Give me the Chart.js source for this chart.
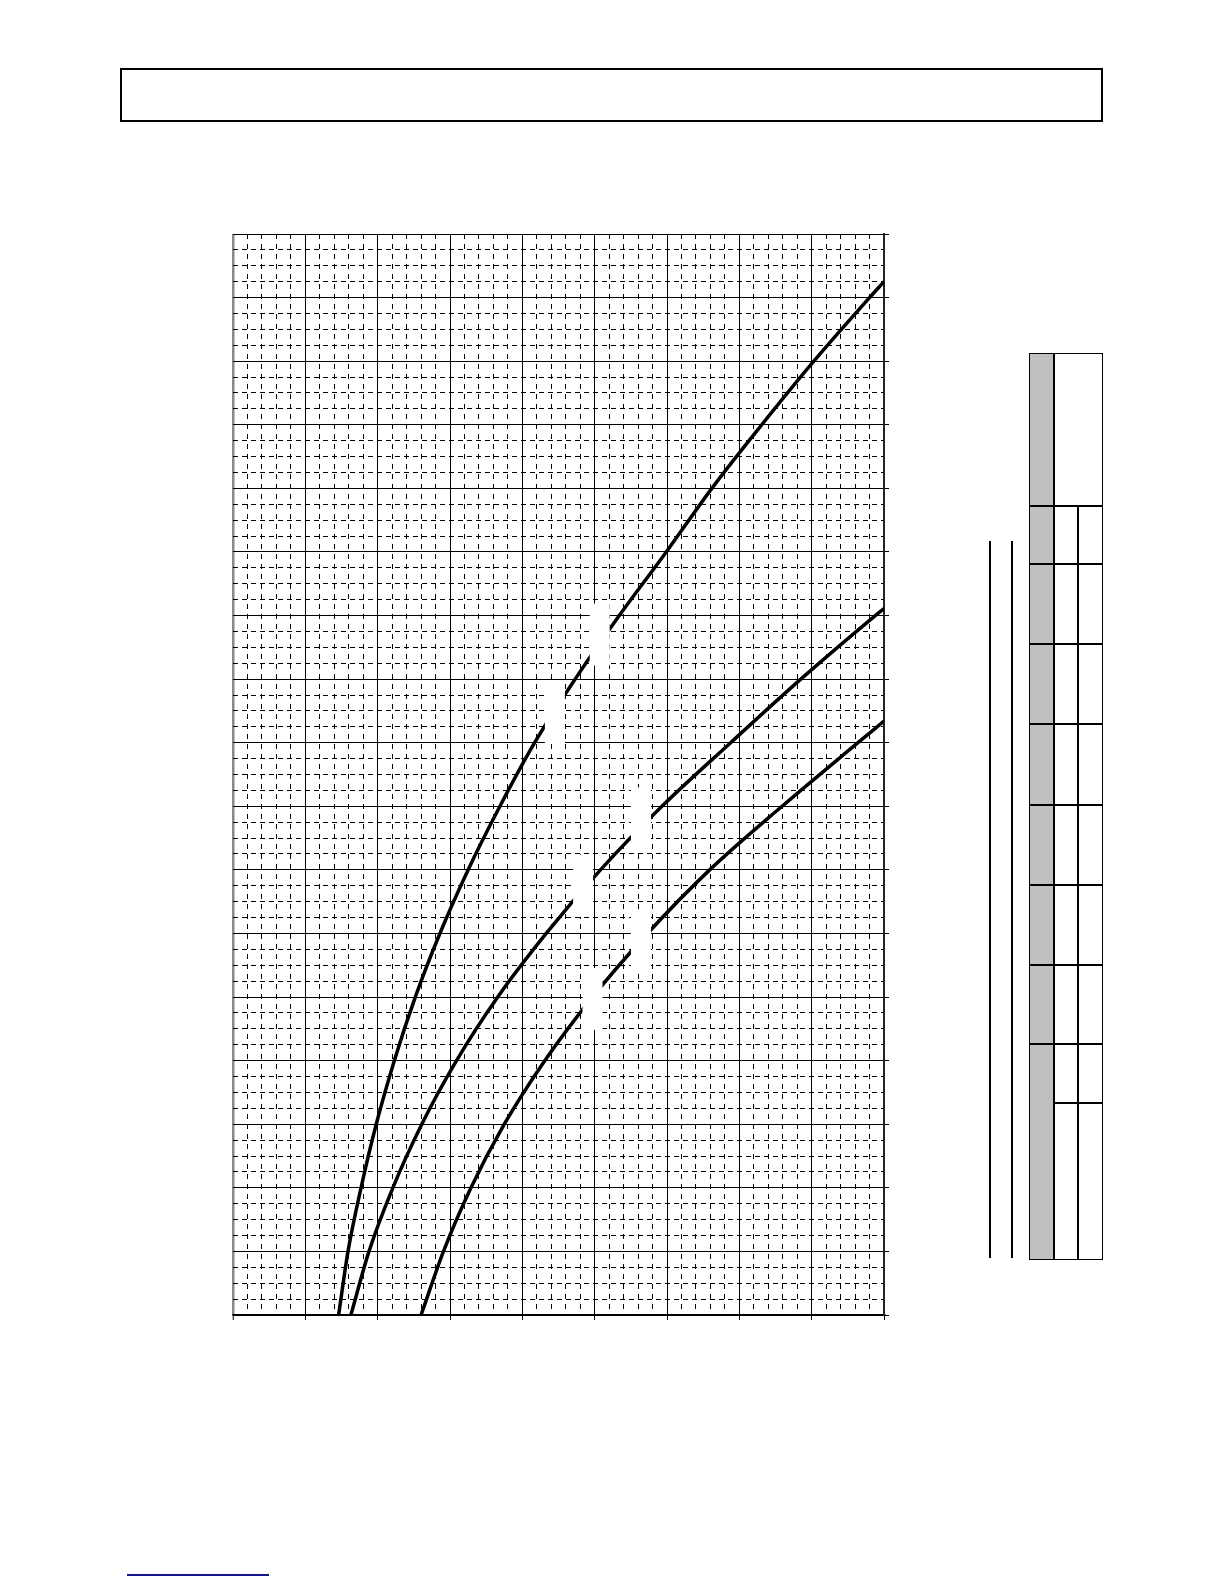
<!DOCTYPE html>
<html>
<head>
<meta charset="utf-8">
<script src="https://cdn.jsdelivr.net/npm/chart.js@4.4.1/dist/chart.umd.min.js"></script>
<style>
  body { margin: 0; background: #fff; }
  #page { position: relative; width: 1224px; height: 1584px; background: #fff; overflow: hidden; }
  .abs { position: absolute; box-sizing: border-box; }
  .hl { position: absolute; height: 1.5px; background: #000; }
  .vl { position: absolute; width: 1.5px; background: #000; }
  #chartBox { position: absolute; left: 200px; top: 200px; width: 720px; height: 1150px; }
</style>
</head>
<body>
<div id="page">
  <!-- title frame -->
  <div class="abs" style="left:120px; top:68px; width:983px; height:54px; border:2px solid #000;"></div>

  <div id="chartBox"><canvas id="curveChart"></canvas></div>

  <!-- two loose rules left of the table -->
  <div class="vl" style="left:989px; top:541px; height:717px;"></div>
  <div class="vl" style="left:1011px; top:541px; height:717px;"></div>

  <!-- side table -->
  <div class="abs" style="left:1029px; top:353px; width:24px; height:906px; background:#c0c0c0;"></div>
  <div class="abs" style="left:1029px; top:353px; width:74px; height:907px; border:1.5px solid #000;"></div>
  <div class="vl" style="left:1053px; top:353px; height:906px;"></div>
  <div class="vl" style="left:1077px; top:505px; height:754px;"></div>
  <div class="hl" style="left:1029px; top:505px; width:73px;"></div>
  <div class="hl" style="left:1029px; top:563px; width:73px;"></div>
  <div class="hl" style="left:1029px; top:643px; width:73px;"></div>
  <div class="hl" style="left:1029px; top:723px; width:73px;"></div>
  <div class="hl" style="left:1029px; top:804px; width:73px;"></div>
  <div class="hl" style="left:1029px; top:884px; width:73px;"></div>
  <div class="hl" style="left:1029px; top:964px; width:73px;"></div>
  <div class="hl" style="left:1029px; top:1043px; width:73px;"></div>
  <div class="hl" style="left:1053px; top:1102px; width:49px;"></div>

  <!-- footer rule -->
  <div class="abs" style="left:127px; top:1574px; width:142px; height:2px; background:#14148a;"></div>
</div>

<script>
// axis ranges (grid units)
const xMin = 0, xMax = 9, xMajor = 1, xMinor = 0.2;
const yMin = 0, yMax = 17, yMajor = 1, yMinor = 0.25;

// curve values
const curve1X = [1.46, 1.59, 1.77, 1.98, 2.23, 2.52, 2.86, 3.25, 3.69, 4.17, 4.73, 5.34, 5.99, 6.62, 7.31, 8.03, 8.80, 9.00];
const curve1Y = [0, 1, 2, 3, 4, 5, 6, 7, 8, 9, 10, 11, 12, 13, 14, 15, 16, 16.25];

const curve2X = [1.63, 1.88, 2.21, 2.61, 3.09, 3.66, 4.33, 5.08, 5.93, 6.88, 7.85, 8.88, 9.00];
const curve2Y = [0, 1, 2, 3, 4, 5, 6, 7, 8, 9, 10, 11, 11.11];

const curve3X = [2.60, 2.91, 3.29, 3.75, 4.31, 4.97, 5.73, 6.59, 7.59, 8.64, 9.00];
const curve3Y = [0, 1, 2, 3, 4, 5, 6, 7, 8, 9, 9.34];

// where the (blank) curve labels sit, in grid units
const labelX = [4.45, 5.07, 4.84, 5.64, 4.97, 5.64];
const labelY = [9.48, 10.70, 6.75, 7.81, 4.97, 5.85];

function toPoints(xs, ys) {
  return xs.map((x, i) => ({ x: x, y: ys[i] }));
}

// white backing boxes of the curve labels
const labelBoxes = {
  id: 'labelBoxes',
  afterDatasetsDraw(chart) {
    const ctx = chart.ctx;
    const xs = chart.scales.x, ys = chart.scales.y;
    ctx.save();
    ctx.fillStyle = '#ffffff';
    labelX.forEach((lx, i) => {
      const px = xs.getPixelForValue(lx);
      const py = ys.getPixelForValue(labelY[i]);
      ctx.fillRect(px - 10, py - 31, 20, 62);
    });
    ctx.restore();
  }
};

const lineStyle = {
  borderColor: '#000',
  borderWidth: 3.5,
  pointRadius: 0,
  fill: false,
  cubicInterpolationMode: 'monotone'
};

new Chart(document.getElementById('curveChart').getContext('2d'), {
  type: 'line',
  data: {
    datasets: [
      Object.assign({ data: toPoints(curve1X, curve1Y) }, lineStyle),
      Object.assign({ data: toPoints(curve2X, curve2Y) }, lineStyle),
      Object.assign({ data: toPoints(curve3X, curve3Y) }, lineStyle)
    ]
  },
  options: {
    responsive: true,
    maintainAspectRatio: false,
    animation: false,
    layout: { padding: { left: 33, top: 34, right: 31, bottom: 30 } },
    plugins: { legend: { display: false }, tooltip: { enabled: false } },
    scales: {
      x: {
        type: 'linear', position: 'bottom', min: xMin, max: xMax,
        ticks: { display: false, stepSize: xMajor, autoSkip: false },
        grid: {
          color: c => c.index === 0 ? '#8a8a8a' : '#000',
          lineWidth: c => c.index === 0 ? 2.5 : 1,
          drawTicks: true, tickLength: 5, tickColor: '#000', tickWidth: 1
        },
        border: { display: true, color: '#000', width: 1.5 }
      },
      x2: {
        type: 'linear', position: 'top', min: xMin, max: xMax,
        ticks: { display: false, stepSize: xMinor, autoSkip: false },
        grid: {
          color: c => c.index % 5 === 0 ? 'rgba(0,0,0,0)' : '#000',
          lineWidth: 1, drawTicks: false
        },
        border: { display: false, dash: [5, 5] }
      },
      y: {
        type: 'linear', position: 'right', min: yMin, max: yMax,
        ticks: { display: false, stepSize: yMajor, autoSkip: false },
        grid: {
          color: '#000', lineWidth: 1,
          drawTicks: true, tickLength: 5, tickColor: '#000', tickWidth: 1
        },
        border: { display: true, color: '#222', width: 2 }
      },
      y2: {
        type: 'linear', position: 'left', min: yMin, max: yMax,
        ticks: { display: false, stepSize: yMinor, autoSkip: false },
        grid: {
          color: c => c.index % 4 === 0 ? 'rgba(0,0,0,0)' : '#000',
          lineWidth: 1, drawTicks: false
        },
        border: { display: false, dash: [5, 4] }
      }
    }
  },
  plugins: [labelBoxes]
});
</script>
</body>
</html>
